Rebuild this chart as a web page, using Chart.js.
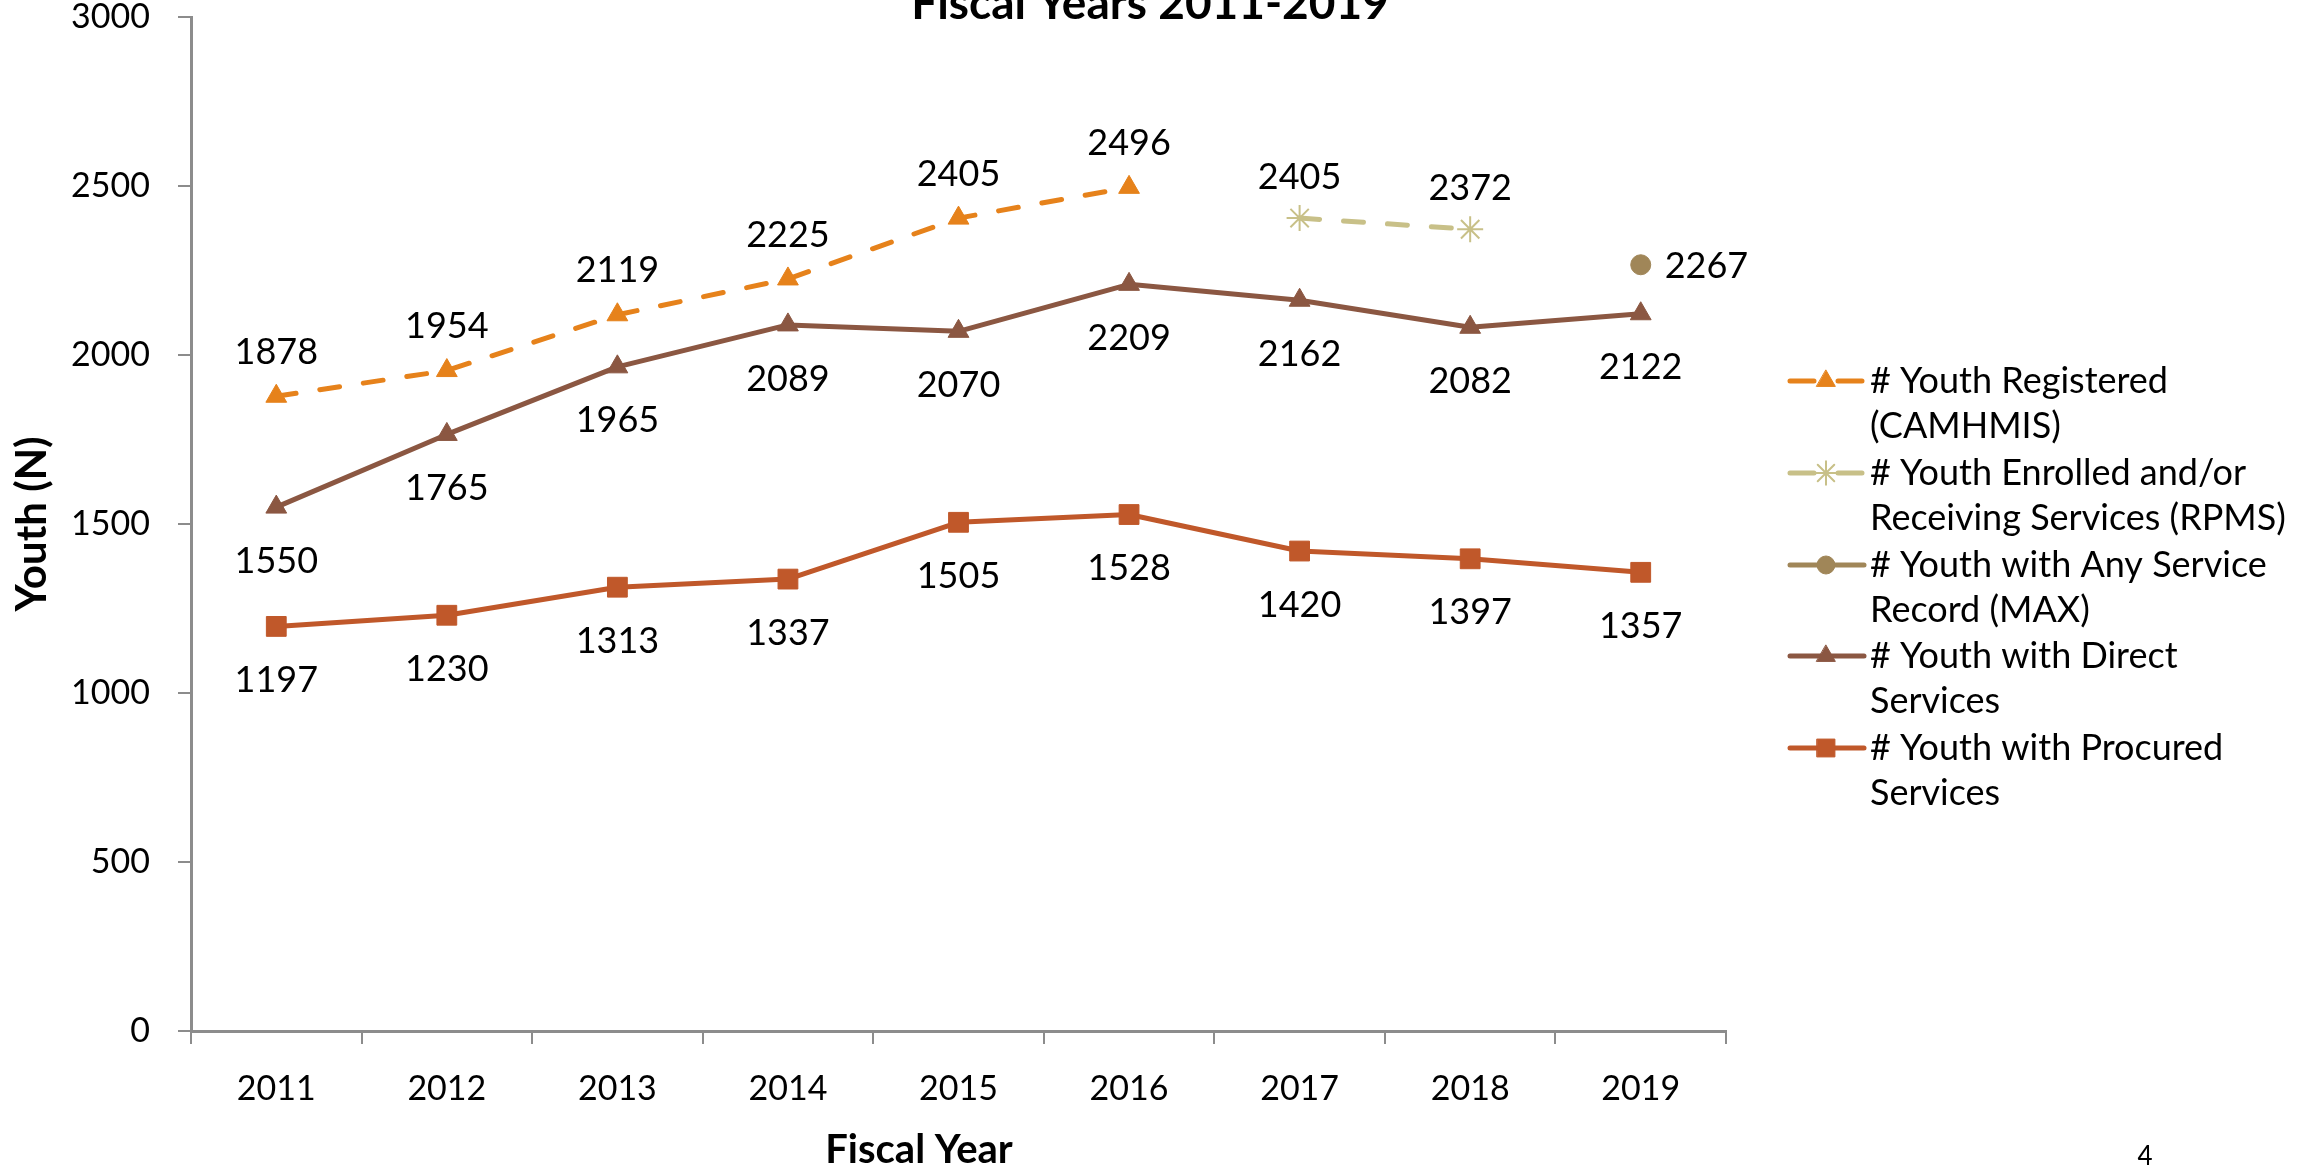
<!DOCTYPE html>
<html><head><meta charset="utf-8">
<script src="https://cdn.jsdelivr.net/npm/chart.js@4/dist/chart.umd.min.js"></script>
<style>html,body{margin:0;padding:0;background:#fff;overflow:hidden}#wrap{width:2307px;height:1170px;position:relative}</style>
</head><body><div id="wrap"><canvas id="c"></canvas></div>
<script>
// ---- data ----
const years = ['2011','2012','2013','2014','2015','2016','2017','2018','2019'];
const registeredCAMHMIS = [1878,1954,2119,2225,2405,2496,null,null,null];
const enrolledRPMS      = [null,null,null,null,null,null,2405,2372,null];
const anyServiceMAX     = [null,null,null,null,null,null,null,null,2267];
const directServices    = [1550,1765,1965,2089,2070,2209,2162,2082,2122];
const procuredServices  = [1197,1230,1313,1337,1505,1528,1420,1397,1357];
const yTickValues = [0,500,1000,1500,2000,2500,3000];
const legendLines = [
  ['# Youth Registered','(CAMHMIS)'],
  ['# Youth Enrolled and/or','Receiving Services (RPMS)'],
  ['# Youth with Any Service','Record (MAX)'],
  ['# Youth with Direct','Services'],
  ['# Youth with Procured','Services']
];
const titleText = 'Fiscal Years 2011-2019';
const yTitle = 'Youth (N)';
const xTitle = 'Fiscal Year';
const pageNumber = '4';

// ---- styles ----
const FONT = 'Lato, "Open Sans", sans-serif';
const C_REG = '#E6821B', C_RPMS = '#C8C088', C_MAX = '#A08658', C_DIR = '#8B5742', C_PRO = '#C0582A';
const AXIS = '#8c8c8c';
const labelPlace = [
  {dx:0, dy:-44, align:'center'},
  {dx:0, dy:-41, align:'center'},
  {dx:24, dy:2, align:'left'},
  {dx:0, dy:54, align:'center'},
  {dx:0, dy:54, align:'center'}
];

function ds(label, data, color, style, radius, dashed){
  return {label, data, borderColor: color, backgroundColor: color,
    pointBackgroundColor: color, pointBorderColor: color,
    pointStyle: style, pointRadius: radius, pointHoverRadius: radius,
    pointBorderWidth: style==='star'?2:1, borderWidth: 5,
    borderDash: dashed ? [20, 24] : [], borderCapStyle: dashed ? 'round' : 'butt',
    borderJoinStyle: 'round', tension: 0, spanGaps: false, fill: false};
}

const datasets = [
  ds(legendLines[0].join(' '), registeredCAMHMIS, C_REG, 'triangle', 12, true),
  ds(legendLines[1].join(' '), enrolledRPMS, C_RPMS, 'star', 13, true),
  ds(legendLines[2].join(' '), anyServiceMAX, C_MAX, 'circle', 10, false),
  ds(legendLines[3].join(' '), directServices, C_DIR, 'triangle', 12, false),
  ds(legendLines[4].join(' '), procuredServices, C_PRO, 'rect', 14, false)
];

const labelsPlugin = {
  id: 'dataLabels',
  afterDatasetsDraw(chart){
    const ctx = chart.ctx;
    ctx.save();
    ctx.font = '36px ' + FONT;
    ctx.fillStyle = '#000';
    ctx.textBaseline = 'middle';
    chart.data.datasets.forEach((d, i) => {
      const meta = chart.getDatasetMeta(i);
      const p = labelPlace[i];
      ctx.textAlign = p.align;
      meta.data.forEach((pt, j) => {
        const v = d.data[j];
        if (v === null || v === undefined) return;
        ctx.fillText(String(v), pt.x + p.dx, pt.y + p.dy);
      });
    });
    ctx.restore();
  }
};

const decorPlugin = {
  id: 'decor',
  beforeDraw(chart){
    const ctx = chart.ctx;
    ctx.save(); ctx.fillStyle = '#fff'; ctx.fillRect(0, 0, chart.width, chart.height); ctx.restore();
  },
  afterDraw(chart){
    const ctx = chart.ctx;
    ctx.save();
    // clipped title
    ctx.font = 'bold 46px ' + FONT;
    ctx.fillStyle = '#000';
    ctx.textAlign = 'center';
    ctx.textBaseline = 'alphabetic';
    ctx.fillText(titleText, 1150, 19);
    // x axis title
    ctx.font = 'bold 40px ' + FONT;
    ctx.textBaseline = 'middle';
    ctx.fillText(xTitle, 919, 1150);
    // page number
    ctx.font = '26px ' + FONT;
    ctx.fillText(pageNumber, 2145, 1157);
    // legend
    const x0 = 1790, x1 = 1862, mx = (x0 + x1) / 2, tx = 1870;
    const firstY = [381, 473, 565, 656, 748];
    const lineGap = 45.5;
    chart.data.datasets.forEach((d, i) => {
      const y = firstY[i];
      ctx.strokeStyle = d.borderColor;
      ctx.lineWidth = 5;
      ctx.lineCap = 'round';
      ctx.setLineDash([]);
      ctx.beginPath();
      if (d.borderDash && d.borderDash.length) {
        ctx.moveTo(x0, y); ctx.lineTo(mx - 12, y);
        ctx.moveTo(mx + 12, y); ctx.lineTo(x1, y);
      } else {
        ctx.moveTo(x0, y); ctx.lineTo(x1 + 2, y);
      }
      ctx.stroke();
      ctx.fillStyle = d.pointBackgroundColor;
      ctx.strokeStyle = d.pointBorderColor;
      ctx.lineWidth = d.pointBorderWidth;
      Chart.helpers.drawPoint(ctx, {
        pointStyle: d.pointStyle, radius: d.pointRadius * 0.9, rotation: 0,
        borderWidth: d.pointBorderWidth
      }, mx, y);
      ctx.fillStyle = '#000';
      ctx.font = '36px ' + FONT;
      ctx.textAlign = 'left';
      ctx.textBaseline = 'middle';
      legendLines[i].forEach((t, k) => ctx.fillText(t, tx, y + k * lineGap));
    });
    ctx.restore();
  }
};

new Chart(document.getElementById('c'), {
  type: 'line',
  data: { labels: years, datasets },
  options: {
    responsive: true, maintainAspectRatio: false, animation: false,
    devicePixelRatio: 1,
    layout: { padding: { top: 17, right: 581, bottom: 0, left: 0 } },
    plugins: { legend: { display: false }, title: { display: false }, tooltip: { enabled: false } },
    scales: {
      x: {
        type: 'category', offset: true,
        grid: { display: true, drawOnChartArea: false, offset: true, drawTicks: true, tickLength: 13, color: AXIS, lineWidth: 2 },
        border: { display: true, color: AXIS, width: 3 },
        ticks: { color: '#000', font: { family: FONT, size: 34 }, padding: 25, maxRotation: 0, autoSkip: false },
        title: { display: false },
        afterFit(s){ s.height = 139; s.paddingLeft = 0; s.paddingRight = 0; }
      },
      y: {
        min: 0, max: 3000,
        afterBuildTicks(s){ s.ticks = yTickValues.map(v => ({ value: v })); },
        grid: { display: true, drawOnChartArea: false, drawTicks: true, tickLength: 13, color: AXIS, lineWidth: 2 },
        border: { display: true, color: AXIS, width: 3 },
        ticks: { color: '#000', font: { family: FONT, size: 34 }, padding: 28, callback: v => String(v) },
        title: { display: true, text: yTitle, color: '#000', font: { family: FONT, size: 42, weight: 'bold', lineHeight: 1.2 }, padding: { top: 7, bottom: 0 } },
        afterFit(s){ s.width = 191; s.paddingTop = 0; s.paddingBottom = 0; }
      }
    }
  },
  plugins: [labelsPlugin, decorPlugin]
});
</script>
</body></html>
